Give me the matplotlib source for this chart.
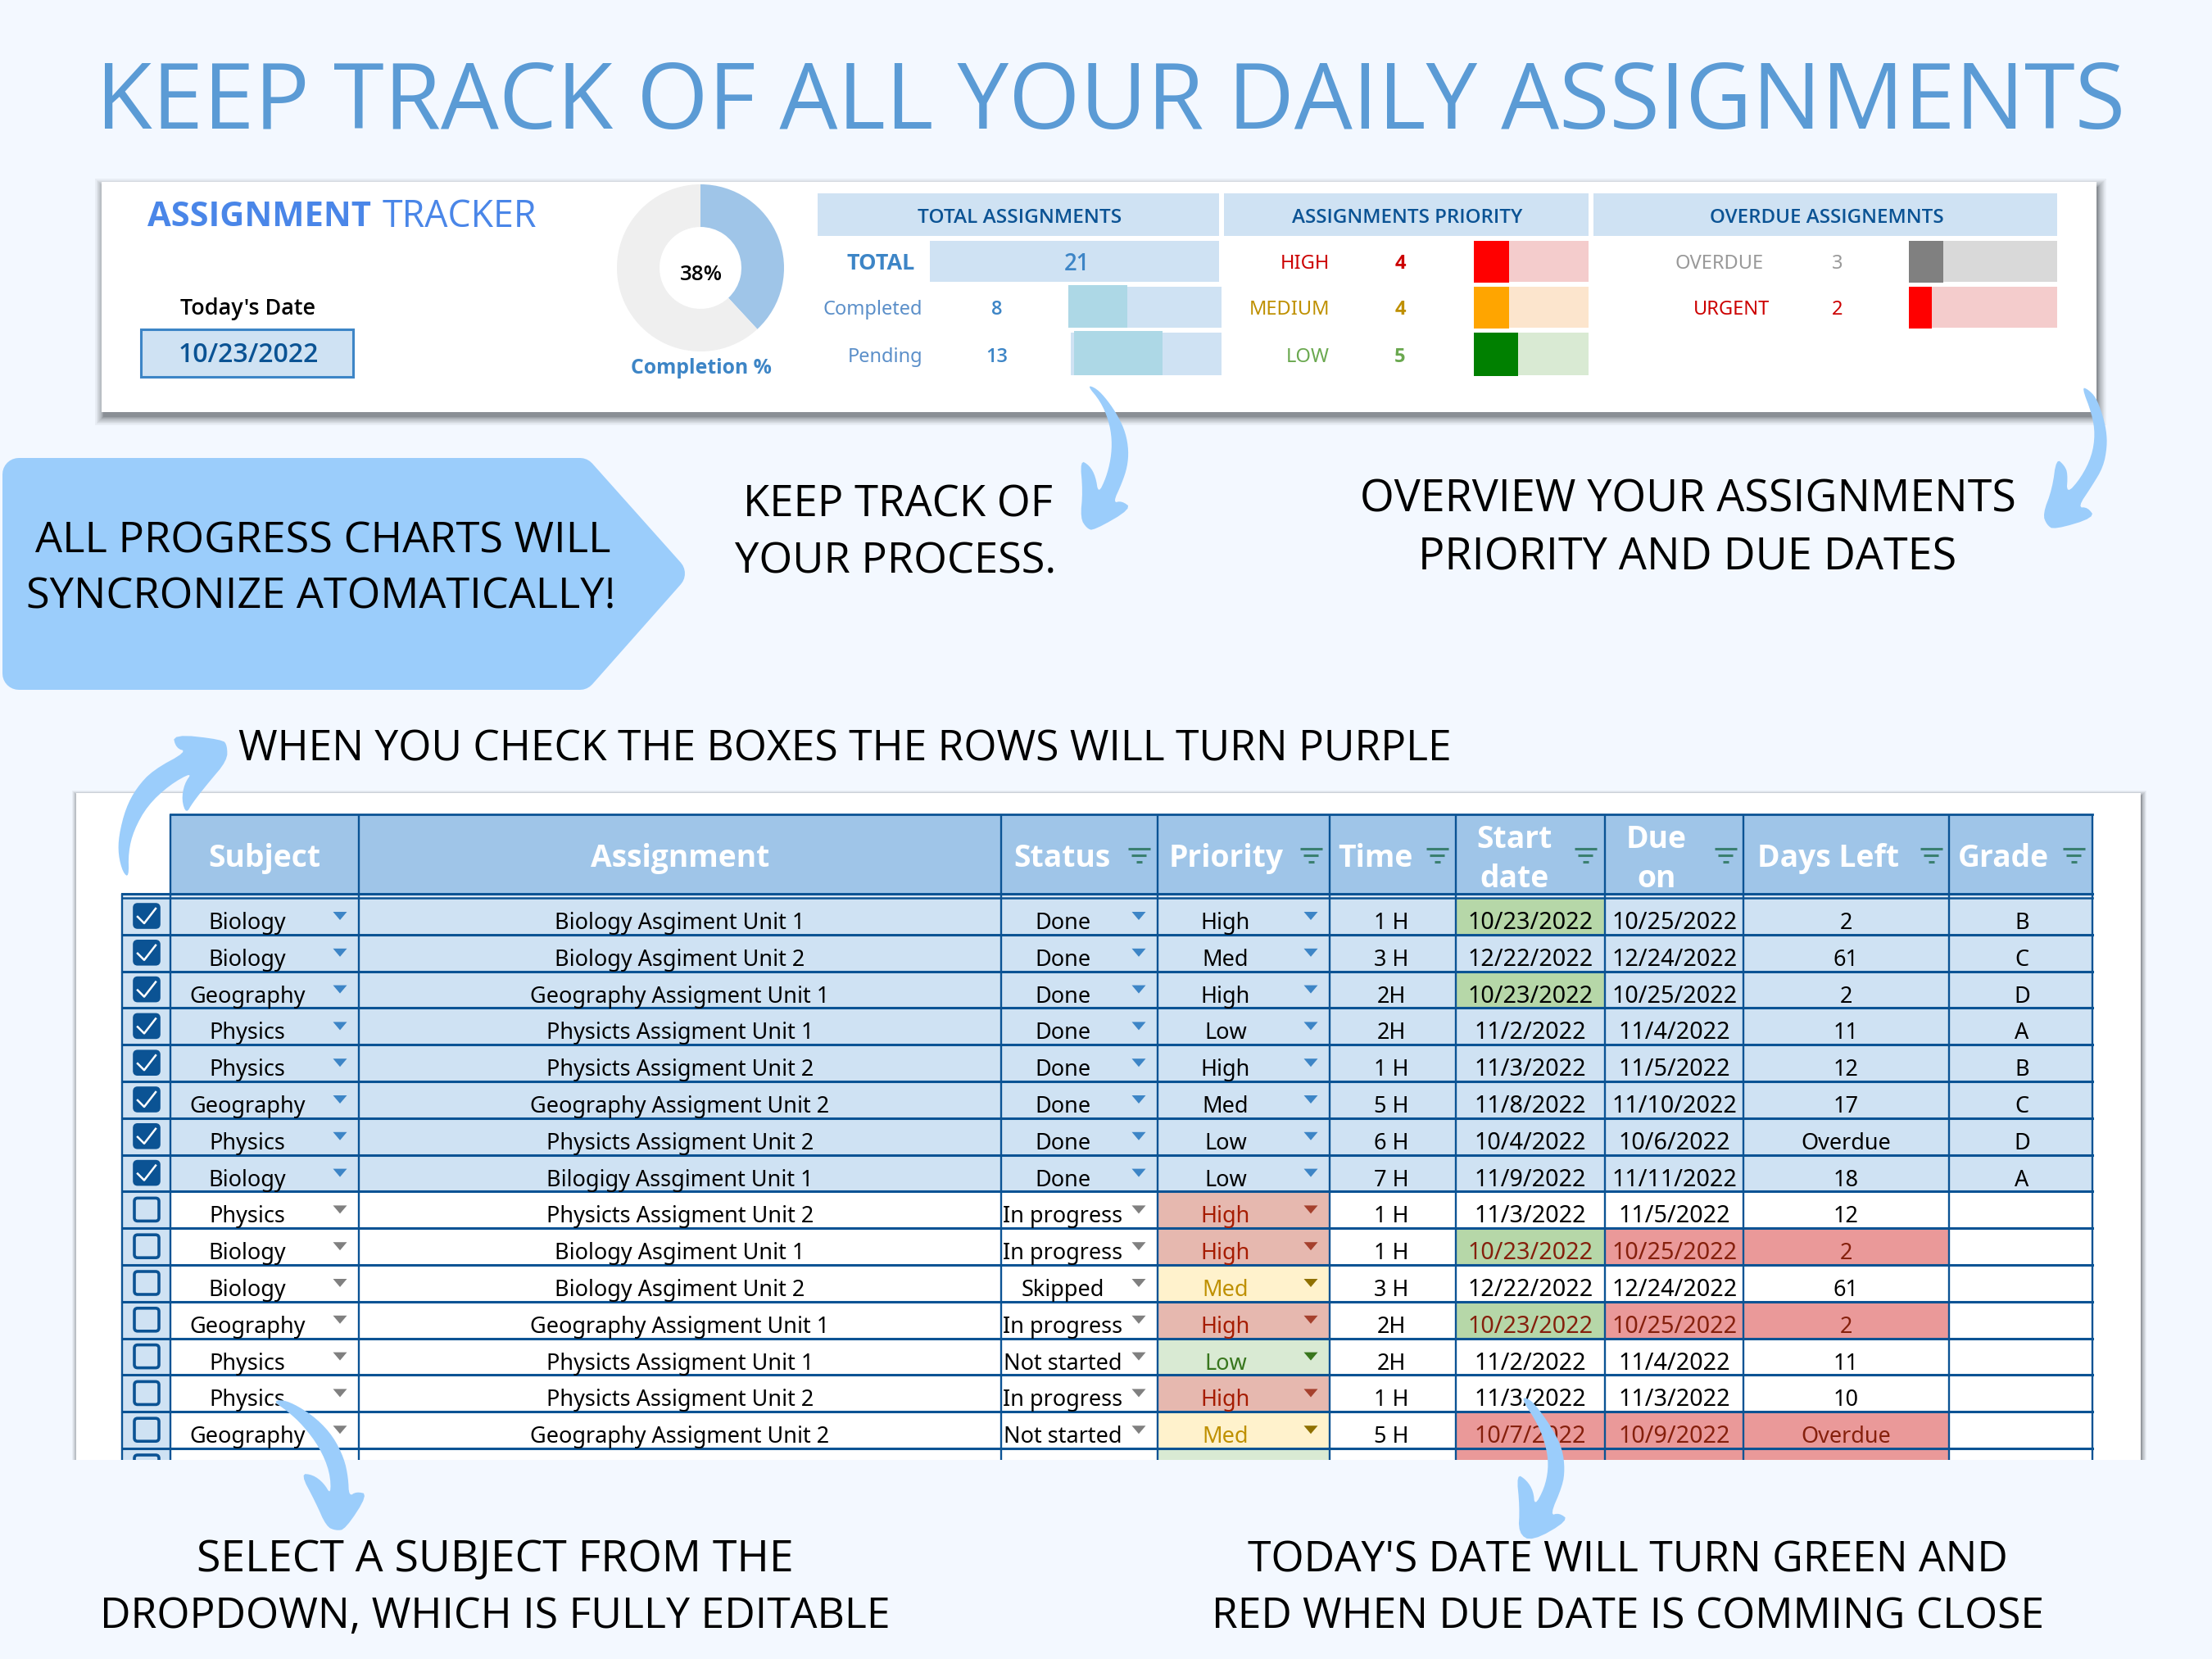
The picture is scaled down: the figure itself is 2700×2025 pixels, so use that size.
import numpy as np
import matplotlib
matplotlib.use("Agg")
import matplotlib.pyplot as plt
from matplotlib.patches import Rectangle, Polygon, FancyBboxPatch
from matplotlib.font_manager import FontProperties
from matplotlib.textpath import TextPath

# ---------- data ----------
subjects = ["Biology","Biology","Geography","Physics","Physics","Geography","Physics","Biology",
            "Physics","Biology","Biology","Geography","Physics","Physics","Geography",""]
assignments = ["Biology Asgiment Unit 1","Biology Asgiment Unit 2","Geography Assigment Unit 1",
               "Physicts Assigment Unit 1","Physicts Assigment Unit 2","Geography Assigment Unit 2",
               "Physicts Assigment Unit 2","Bilogigy Assgiment Unit 1","Physicts Assigment Unit 2",
               "Biology Asgiment Unit 1","Biology Asgiment Unit 2","Geography Assigment Unit 1",
               "Physicts Assigment Unit 1","Physicts Assigment Unit 2","Geography Assigment Unit 2",""]
statuses = ["Done"]*8 + ["In progress","In progress","Skipped","In progress","Not started",
                         "In progress","Not started",""]
priorities = ["High","Med","High","Low","High","Med","Low","Low",
              "High","High","Med","High","Low","High","Med","Low"]
times = ["1 H","3 H","2H","2H","1 H","5 H","6 H","7 H","1 H","1 H","3 H","2H","2H","1 H","5 H",""]
starts = ["10/23/2022","12/22/2022","10/23/2022","11/2/2022","11/3/2022","11/8/2022","10/4/2022",
          "11/9/2022","11/3/2022","10/23/2022","12/22/2022","10/23/2022","11/2/2022","11/3/2022",
          "10/7/2022",""]
dues = ["10/25/2022","12/24/2022","10/25/2022","11/4/2022","11/5/2022","11/10/2022","10/6/2022",
        "11/11/2022","11/5/2022","10/25/2022","12/24/2022","10/25/2022","11/4/2022","11/3/2022",
        "10/9/2022",""]
days_left = ["2","61","2","11","12","17","Overdue","18","12","2","61","2","11","10","Overdue","Overdue"]
grades = ["B","C","D","A","B","C","D","A"] + [""]*8
TODAY = "10/23/2022"

completed, pending = 8, 13
total = completed + pending
priority_names = ["HIGH", "MEDIUM", "LOW"]
priority_counts = [4, 4, 5]
overdue_names = ["OVERDUE", "URGENT"]
overdue_counts = [3, 2]
completion_pct = 38

# ---------- style ----------
BG = "#f3f8ff"; LIGHT = "#cfe2f3"; HEAD = "#9fc5e8"; LINE = "#0b5394"; SKY = "#9bcdfb"
P_FILL = {"High": "#e6b8af", "Med": "#fff2cc", "Low": "#d9ead3"}
P_TEXT = {"High": "#a61c00", "Med": "#bf9000", "Low": "#38761d"}
P_ARW = {"High": "#a5402d", "Med": "#8f7000", "Low": "#38761d"}
RED = "#ea9999"; REDTXT = "#85200c"; GREEN = "#b6d7a8"
UI = {"family": "Noto Sans"}
CANVA = {"family": "Open Sans"}
BOLD = {"family": "Open Sans", "weight": "bold"}
SEMI = {"family": "Open Sans", "weight": "semibold"}

fig = plt.figure(figsize=(27, 20.25), dpi=100, facecolor=BG)
ax = fig.add_axes([0, 0, 1, 1])
ax.set_xlim(0, 2700); ax.set_ylim(2025, 0); ax.axis("off")


def fit(s, width, font):
    fp = FontProperties(**font)
    return width * 72 / TextPath((0, 0), s, size=100, prop=fp).get_extents().width


def rect(x0, y0, x1, y1, fc, z=2, **kw):
    ax.add_patch(Rectangle((x0, y0), x1 - x0, y1 - y0, facecolor=fc, edgecolor="none", zorder=z, **kw))


def label(x, y, s, size, color="black", ha="center", va="center", z=6, font=UI, **kw):
    if s:
        if va == "center":
            y += 3
        ax.text(x, y, s, fontsize=size, color=color, ha=ha, va=va, zorder=z, **font, **kw)


def fitted(x, y, s, width, color="black", font=CANVA, z=8, ha="center", dy=3):
    label(x, y + dy, s, fit(s, width, font), color, ha=ha, z=z, font=font)


def shadow(x0, y0, x1, y1, dx=3, dy=6, reach=10.0, layers=14, strength=0.055, power=2.2):
    for i in range(layers, 0, -1):
        g = reach * (i / layers) ** power
        rect(x0 + dx - g, y0 + dy - g, x1 + dx + g, y1 + dy + g, "#3c4046", z=1, alpha=strength)


def chaikin(points, n=2):
    p = np.asarray(points, float)
    for _ in range(n):
        q = np.roll(p, -1, axis=0)
        p = np.column_stack([0.75 * p + 0.25 * q, 0.25 * p + 0.75 * q]).reshape(-1, 2)
    return p


def swoosh(origin, outline):
    pts = chaikin(outline) / 3.0 + np.asarray(origin)
    ax.add_patch(Polygon(pts, closed=True, facecolor=SKY, edgecolor="none", zorder=7))


def tri(cx, cy, color, w=17, h=10, z=6):
    ax.add_patch(Polygon([(cx - w / 2, cy - h / 2), (cx + w / 2, cy - h / 2), (cx, cy + h / 2)],
                         closed=True, facecolor=color, edgecolor="none", zorder=z))


# ---------- title ----------
fitted(1356, 122, "KEEP TRACK OF ALL YOUR DAILY ASSIGNMENTS", 2460, "#5b9bd5")

# ---------- dashboard panel ----------
shadow(124, 222, 2559, 503, dx=2)
rect(124, 222, 2559, 503, "white", z=2)
fitted(180, 261, "ASSIGNMENT", 272, "#4a86e8", font=BOLD, ha="left", dy=1)
fitted(467, 261, "TRACKER", 187, "#4a86e8", font=CANVA, ha="left", dy=1)
fitted(303, 374, "Today's Date", 163, "black", font=SEMI, dy=0)
ax.add_patch(Rectangle((172, 402), 259, 58, facecolor=LIGHT, edgecolor="#3d85c6", linewidth=2.2, zorder=3))
fitted(303, 431, TODAY, 168, "#0b5394", font=SEMI, dy=0)

# donut
cx, cy, R = 855, 327, 102
dax = fig.add_axes([(cx - R) / 2700, 1 - (cy + R) / 2025, 2 * R / 2700, 2 * R / 2025])
dax.pie([completed, pending], colors=[HEAD, "#efefef"], startangle=90, counterclock=False, radius=1,
        wedgeprops={"width": 0.51, "linewidth": 0})
dax.set_xlim(-1, 1); dax.set_ylim(-1, 1)
dax.patch.set_alpha(0)
fitted(856, 333, f"{completion_pct}%", 50, font=SEMI, dy=0)
fitted(856, 446, "Completion %", 170, "#3d85c6", font=BOLD, dy=0)

# summary headers
for x0, x1, t, tc, tw in [(998, 1488, "TOTAL ASSIGNMENTS", 1245, 248), (1494, 1939, "ASSIGNMENTS PRIORITY", 1718, 282),
                          (1945, 2511, "OVERDUE ASSIGNEMNTS", 2230, 284)]:
    rect(x0, 236, x1, 288, LIGHT, z=3)
    fitted(tc, 263, t, tw, "#0b5394", font=SEMI, dy=0)

SMALL = 17
ROW_Y = [319, 375, 433]
ROW_SPAN = [(294, 344), (350, 400), (406, 458)]
rect(1135, 294, 1488, 344, LIGHT, z=3)
fitted(1117, 319, "TOTAL", 82, "#3d85c6", font=BOLD, ha="right", dy=0)
fitted(1314, 319, str(total), 25, "#3d85c6", font=SEMI, dy=0)
progress = [("Completed", completed, 1304, 1304, 190), ("Pending", pending, 1307, 1311, 174)]
for i, (name, val, x0, fx, fw) in enumerate(progress, start=1):
    y0, y1 = ROW_SPAN[i]
    label(1126, ROW_Y[i], name, SMALL, "#5b8fc9", ha="right")
    label(1217, ROW_Y[i], str(val), SMALL, "#3d85c6", font=SEMI)
    rect(x0, y0, 1491, y1, LIGHT, z=3)
    ax.barh((y0 + y1) / 2 - 1, fw * val / total, left=fx, height=y1 - y0 + 2, color="#add8e6", zorder=4)

pri_bar = ["#ff0000", "#ffa500", "#008000"]
pri_back = ["#f4cccc", "#fce5cd", "#d9ead3"]
pri_txt = ["#cc0000", "#bf9000", "#6aa84f"]
for i, (n, v) in enumerate(zip(priority_names, priority_counts)):
    y0, y1 = ROW_SPAN[i]
    label(1623, ROW_Y[i], n, SMALL, pri_txt[i], ha="right")
    label(1709, ROW_Y[i], str(v), SMALL, pri_txt[i], font=BOLD)
    rect(1799, y0, 1939, y1, pri_back[i], z=3)
    ax.barh((y0 + y1) / 2, 140 * v / sum(priority_counts), left=1799, height=y1 - y0 + 1, color=pri_bar[i], zorder=4)

od_bar = ["#808080", "#ff0000"]
od_back = ["#d9d9d9", "#f4cccc"]
od_txt = ["#999999", "#cc0000"]
od_right = [2153, 2160]
for i, (n, v) in enumerate(zip(overdue_names, overdue_counts)):
    y0, y1 = ROW_SPAN[i]
    label(od_right[i], ROW_Y[i], n, SMALL, od_txt[i], ha="right")
    label(2243, ROW_Y[i], str(v), SMALL, od_txt[i])
    rect(2330, y0, 2511, y1, od_back[i], z=3)
    ax.barh((y0 + y1) / 2, 181 * v / pending, left=2330, height=y1 - y0 + 1, color=od_bar[i], zorder=4)

# ---------- callout ----------
ax.add_patch(Polygon([(23, 579), (708, 579), (816, 700), (708, 822), (23, 822)], closed=True,
                     facecolor=SKY, edgecolor=SKY, linewidth=28.8, joinstyle="round", zorder=2))
fitted(394, 655, "ALL PROGRESS CHARTS WILL", 702)
fitted(392, 723, "SYNCRONIZE ATOMATICALLY!", 712)
fitted(1096, 611, "KEEP TRACK OF", 372)
fitted(1093, 680, "YOUR PROCESS.", 388)
fitted(2060, 604, "OVERVIEW YOUR ASSIGNMENTS", 796)
fitted(2060, 675, "PRIORITY AND DUE DATES", 649)
fitted(291, 909, "WHEN YOU CHECK THE BOXES THE ROWS WILL TURN PURPLE", 1480, ha="left")
fitted(604, 1898, "SELECT A SUBJECT FROM THE", 722)
fitted(604, 1967, "DROPDOWN, WHICH IS FULLY EDITABLE", 958)
fitted(1987, 1899, "TODAY'S DATE WILL TURN GREEN AND", 926)
fitted(1987, 1968, "RED WHEN DUE DATE IS COMMING CLOSE", 1008)

# ---------- table ----------
shadow(93, 968, 2613, 1800, dx=1, dy=3, reach=6.0)
rect(93, 968, 2613, 1800, "white", z=2)

XS = [149, 208, 438, 1222, 1413, 1623, 1777, 1959, 2128, 2379, 2554]
HEAD_TOP, HEAD_BOT, BODY_TOP, PITCH, CUT = 994, 1091, 1096, 44.8, 1782
rect(XS[1], HEAD_TOP, XS[-1], HEAD_BOT, HEAD, z=3)

TBL = fit("Geography Assigment Unit 1", 358, UI)
DATE = fit(TODAY, 149, UI)
HSIZE = fit("Assignment", 218, BOLD)
heads = [(323, 1045, "Subject"), (830, 1045, "Assignment"), (1296, 1045, "Status"), (1497, 1045, "Priority"),
         (1679, 1045, "Time"), (1848, 1022, "Start"), (1848, 1070, "date"), (2022, 1022, "Due"),
         (2022, 1070, "on"), (2232, 1045, "Days Left"), (2445, 1045, "Grade")]
for x, y, t in heads:
    label(x, y, t, HSIZE, "white", font=BOLD)
for x in [1390, 1600, 1754, 1935, 2106, 2357, 2531]:
    for dy, w in [(-8, 27), (0, 18), (8, 7)]:
        ax.plot([x - w / 2, x + w / 2], [1044 + dy, 1044 + dy], color="#3a7f70", lw=2.2,
                solid_capstyle="butt", zorder=6)

centers = {"subject": 302, "assign": 830, "status": 1297, "prio": 1496, "time": 1698, "start": 1868,
           "due": 2044, "days": 2253, "grade": 2468}
n = len(subjects)
for i in range(n):
    y0 = BODY_TOP + i * PITCH
    y1 = y0 + PITCH
    base = y0 + 38
    done = statuses[i] == "Done"
    alert = (not done) and days_left[i] in ("2", "Overdue")
    overdue = (not done) and days_left[i] == "Overdue"
    rect(XS[0], y0, XS[1], y1, LIGHT, z=3)
    if done:
        rect(XS[1], y0, XS[-1], y1, LIGHT, z=3)
    else:
        rect(XS[4], y0, XS[5], y1, P_FILL[priorities[i]], z=3)
    if starts[i] == TODAY:
        rect(XS[6], y0, XS[7], y1, GREEN, z=3)
    if overdue:
        rect(XS[6], y0, XS[7], y1, RED, z=3)
    if alert:
        rect(XS[7], y0, XS[9], y1, RED, z=3)

    # checkbox
    ax.add_patch(FancyBboxPatch((164, y0 + 8), 30, 28, boxstyle="round,pad=0,rounding_size=4",
                                facecolor=LINE if done else LIGHT, edgecolor=LINE, linewidth=2.6, zorder=5))
    if done:
        ax.plot([168, 176, 190], [y0 + 23, y0 + 31, y0 + 13], color="white", lw=1.8, zorder=6)

    txt = REDTXT if alert else "black"
    label(centers["subject"], base, subjects[i], TBL, va="baseline")
    label(centers["assign"], base, assignments[i], TBL, va="baseline")
    label(centers["status"], base, statuses[i], TBL, va="baseline")
    label(centers["prio"], base, priorities[i] if statuses[i] else "", TBL,
          "black" if done else P_TEXT[priorities[i]], va="baseline")
    label(centers["time"], base, times[i], TBL, va="baseline")
    label(centers["start"], base, starts[i], DATE, txt, va="baseline")
    label(centers["due"], base, dues[i], DATE, txt, va="baseline")
    if statuses[i]:
        label(centers["days"], base, days_left[i], TBL, txt, va="baseline")
    label(centers["grade"], base, grades[i], TBL, va="baseline")
    if statuses[i]:
        arrow = "#3d85c6" if done else "#808080"
        tri(415, y0 + 22, arrow)
        tri(1390, y0 + 22, arrow)
        tri(1600, y0 + 22, "#3d85c6" if done else P_ARW[priorities[i]])

# grid
for x in XS[1:]:
    ax.plot([x, x], [HEAD_TOP, CUT], color=LINE, lw=1.7, zorder=5, solid_capstyle="butt")
ax.plot([XS[0], XS[0]], [HEAD_BOT, CUT], color=LINE, lw=1.7, zorder=5, solid_capstyle="butt")
ax.plot([XS[1], XS[-1]], [HEAD_TOP, HEAD_TOP], color=LINE, lw=2, zorder=5)
ax.plot([XS[0], XS[-1]], [HEAD_BOT, HEAD_BOT], color=LINE, lw=2.2, zorder=5)
ax.plot([XS[0], XS[-1]], [BODY_TOP, BODY_TOP], color=LINE, lw=1.8, zorder=5)
for i in range(1, n):
    y = BODY_TOP + i * PITCH
    ax.plot([XS[0], XS[-1]], [y, y], color=LINE, lw=2.2, zorder=5)
rect(XS[0] + 1, HEAD_BOT + 1, XS[-1], BODY_TOP - 1, "#dce9f5", z=4)

# mask the cropped lower edge of the screenshot
rect(0, CUT, 2700, 2025, BG, z=5.5)

# ---------- swoosh arrows ----------
swoosh((1280, 450), [(140,60),(175,72),(215,115),(255,175),(282,235),(293,300),(288,360),(268,420),(235,492),
                     (268,484),(305,512),(165,593),(140,585),(116,548),(125,450),(115,334),(150,355),(172,395),
                     (182,458),(210,400),(228,330),(232,260),(220,190),(190,120)])
swoosh((2470, 450), [(213,68),(235,75),(265,105),(288,165),(303,225),(306,285),(292,360),(250,430),(198,508),
                     (235,508),(262,545),(112,590),(85,572),(70,533),(105,440),(120,328),(150,355),(162,385),
                     (157,460),(210,400),(250,320),(262,240),(250,165)])
swoosh((120, 880), [(112,573),(90,555),(73,490),(75,420),(100,320),(140,245),(200,180),(325,112),(285,100),
                    (272,48),(455,68),(472,90),(472,145),(400,230),(345,300),(322,340),(305,290),(315,230),
                    (345,187),(260,235),(180,310),(130,400),(110,480)])
swoosh((320, 1690), [(40,62),(75,55),(130,78),(200,125),(260,190),(300,270),(315,340),(318,410),(345,392),
                     (388,402),(305,530),(270,535),(235,520),(195,430),(140,326),(185,330),(225,360),(252,405),
                     (248,320),(210,230),(150,150),(90,95)])
swoosh((1820, 1690), [(108,47),(140,52),(175,90),(230,170),(262,240),(270,310),(262,370),(215,480),(250,470),
                      (285,497),(150,575),(100,545),(105,450),(93,326),(130,350),(155,390),(160,445),(195,380),
                      (210,310),(205,240),(175,150)])

fig.savefig("out.png", dpi=100, facecolor=BG)
